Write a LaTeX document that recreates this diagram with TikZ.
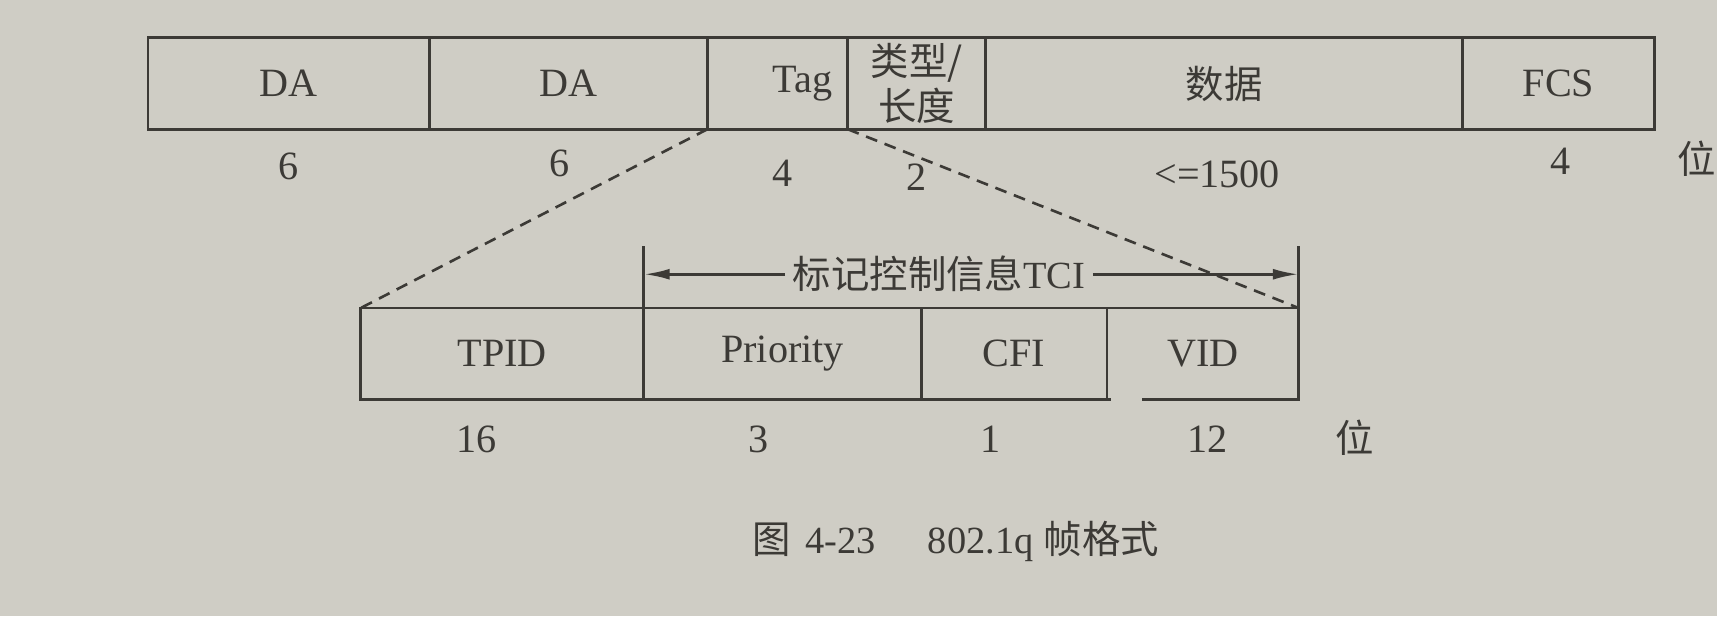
\documentclass[tikz,border=0pt]{standalone}
\usepackage{fontspec}
\setmainfont{Liberation Serif}
\newfontfamily\cjk{Noto Sans CJK SC}
\usetikzlibrary{positioning,arrows.meta}

\definecolor{paper}{RGB}{207,205,197}
\definecolor{ink}{RGB}{60,58,54}

\tikzset{
  field/.style={draw=ink, line width=0.8pt, inner sep=1pt, outer sep=0pt,
    minimum height=0.92cm, text=ink},
  zhtext/.style={font=\cjk\fontsize{11}{12.8}\selectfont},
  zoomline/.style={draw=ink, line width=0.75pt, dash pattern=on 1.2mm off 0.8mm},
  tcarrow/.style={draw=ink, line width=0.8pt, -{Latex[length=2.6mm,width=1.1mm]}}
}

\begin{document}
\begin{tikzpicture}[x=0.1mm, y=-0.1mm, font=\fontsize{11.5}{13}\selectfont, text=ink]
    % paper background (also fixes the picture size)
    \fill[paper] (0,0) rectangle (1728,620);

    % upper frame: fields of the tagged frame
    \node[field, anchor=north west, minimum width=2.83cm] (da1) at (149,38) {DA};
    \node[field, right=0pt of da1, minimum width=2.80cm] (da2) {DA};
    \node[field, right=0pt of da2, minimum width=1.41cm, text width=1.1cm, align=right] (tag) {Tag};
    \node[field, zhtext, right=0pt of tag, minimum width=1.39cm, align=center] (type) {类型/\\长度};
    \node[field, zhtext, right=0pt of type, minimum width=4.80cm] (data) {数据};
    \node[field, right=0pt of data, minimum width=1.93cm] (fcs) {FCS};

    % field lengths in bytes
    \foreach \x/\y/\t [count=\i] in {290/167/6, 563/164/6, 788/174/4, 922/178/2, 1225/175/{<=1500}, 1570/162/4}
        \node (len\i) at (\x,\y) {\t};
    \node[zhtext] (unitA) at (1708,160) {位};

    % lower frame: the Tag field opened up
    \node[field, anchor=north west, minimum width=2.85cm] (tpid) at (363,310) {TPID};
    \node[field, right=0pt of tpid, minimum width=2.79cm] (prio) {Priority};
    \node[field, right=0pt of prio, minimum width=1.87cm] (cfi) {CFI};
    \node[field, right=0pt of cfi, minimum width=1.93cm] (vid) {VID};
    % small break in the bottom line under VID
    \draw[paper, line width=1.6pt] ([xshift=1.2pt]vid.south west) -- ++(31,0);

    % field lengths in bits
    \foreach \x/\t [count=\i] in {480/16, 763/3, 997/1, 1215/12}
        \node (bit\i) at (\x,442) {\t};
    \node[zhtext] (unitB) at (1363,441) {位};

    % dashed lines from Tag down to the lower frame
    \draw[zoomline] (tag.south west) -- (tpid.north west);
    \draw[zoomline] (tag.south east) -- (vid.north east);

    % TCI span: ticks and double arrow
    \draw[draw=ink, line width=0.8pt] (prio.north west) -- ++(0,-62) coordinate (tickL);
    \draw[draw=ink, line width=0.8pt] (vid.north east) -- ++(0,-62) coordinate (tickR);
    \node[zhtext, inner xsep=2pt] (tci) at (945,276) {标记控制信息{\rmfamily TCI}};
    \draw[tcarrow] (tci.west) -- (tci.west -| tickL);
    \draw[tcarrow] (tci.east) -- (tci.east -| tickR);

    % caption
    \node[zhtext] (caption) at (962,545) {图\hspace{4pt}{\rmfamily 4-23}\hspace{15pt}{\rmfamily 802.1q}\hspace{3pt}帧格式};
\end{tikzpicture}
\end{document}
